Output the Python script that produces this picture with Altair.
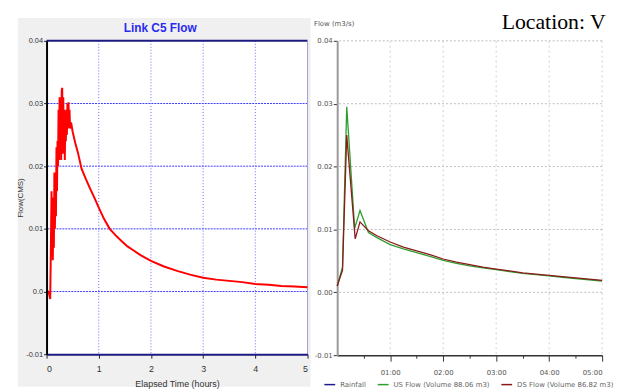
import altair as alt
import pandas as pd

# ---------------- data ----------------
# Left panel: Link C5 Flow (SWMM), elapsed time in hours, flow in CMS
left_time = [0.00, 0.03, 0.05, 0.07, 0.08, 0.095, 0.10, 0.11, 0.12, 0.13, 0.14, 0.15,
             0.16, 0.17, 0.18, 0.19, 0.20, 0.21, 0.22, 0.23, 0.24, 0.25, 0.26, 0.27,
             0.28, 0.29, 0.30, 0.31, 0.32, 0.33, 0.34, 0.35, 0.36, 0.37, 0.38, 0.39,
             0.40, 0.41, 0.42, 0.43, 0.44, 0.45, 0.47, 0.50, 0.55, 0.60, 0.67, 0.75,
             0.83, 0.92, 1.00, 1.10, 1.21, 1.32, 1.43, 1.55, 1.64, 1.80, 2.00, 2.25,
             2.50, 2.75, 3.00, 3.25, 3.50, 3.75, 4.00, 4.25, 4.50, 4.75, 5.00]
left_flow = [0.0, 0.0, -0.0004, -0.0012, 0.005, 0.016, 0.009, 0.015, 0.005, 0.013, 0.007, 0.019,
             0.010, 0.018, 0.012, 0.023, 0.016, 0.024, 0.020, 0.029, 0.021, 0.031, 0.023, 0.030,
             0.021, 0.032, 0.0325, 0.022, 0.031, 0.024, 0.029, 0.021, 0.028, 0.024, 0.029, 0.025,
             0.030, 0.026, 0.0302, 0.027, 0.029, 0.026, 0.027, 0.0255, 0.0237, 0.0222, 0.0196, 0.0180,
             0.0165, 0.0149, 0.0134, 0.0116, 0.0100, 0.0090, 0.0081, 0.0072, 0.0067, 0.0058, 0.0049, 0.0040,
             0.0033, 0.0027, 0.0022, 0.0019, 0.0017, 0.0015, 0.0012, 0.0011, 0.0009, 0.0008, 0.0007]

# Right panel: US / DS flow, time in hours, flow in m3/s
us_time = [0.00, 0.10, 0.18, 0.33, 0.43, 0.59, 0.75, 1.00, 1.25, 1.50, 1.75, 2.00, 2.25,
           2.50, 2.75, 3.00, 3.25, 3.50, 3.75, 4.00, 4.25, 4.50, 4.75, 5.00]
us_flow = [0.0010, 0.0040, 0.0295, 0.0102, 0.0130, 0.0095, 0.0087, 0.0076, 0.0069, 0.0063, 0.0057, 0.0051, 0.0046,
           0.0042, 0.0039, 0.0036, 0.0033, 0.0030, 0.0028, 0.0026, 0.0024, 0.0022, 0.0020, 0.0018]
ds_time = [0.00, 0.10, 0.18, 0.34, 0.43, 0.59, 0.75, 1.00, 1.25, 1.50, 1.75, 2.00, 2.25,
           2.50, 2.75, 3.00, 3.25, 3.50, 3.75, 4.00, 4.25, 4.50, 4.75, 5.00]
ds_flow = [0.0010, 0.0035, 0.0250, 0.0085, 0.0112, 0.0098, 0.0090, 0.0080, 0.0072, 0.0066, 0.0060, 0.0053, 0.0048,
           0.0044, 0.0040, 0.0037, 0.0034, 0.0031, 0.0029, 0.0027, 0.0025, 0.0023, 0.0021, 0.0019]

series_names = ["Rainfall", "US Flow (Volume 88.06 m3)", "DS Flow (Volume 86.82 m3)"]
series_colors = ["#1c1c8c", "#2e9e2e", "#8b1a1a"]

left_yticks = [0.04, 0.03, 0.02, 0.01, 0.0, -0.01]
left_xticks = [0, 1, 2, 3, 4, 5]
left_hgrid = [0.03, 0.02, 0.01, 0.0]
left_vgrid = [1, 2, 3, 4]
left_top = [0.04]
left_right = [5]

right_yticks = [0.04, 0.03, 0.02, 0.01, 0.0, -0.01]
right_xticks = [0.5, 1, 1.5, 2, 2.5, 3, 3.5, 4, 4.5, 5]
right_hgrid = [0.04, 0.03, 0.02, 0.01, 0.0]
right_vgrid = [1, 2, 3, 4, 5]

# ---------------- left panel ----------------
WL, HL = 264, 317
xsL = alt.Scale(domain=[0, 5], nice=False, zero=False)
ysL = alt.Scale(domain=[-0.01, 0.04], nice=False, zero=False)
dummy = pd.DataFrame({"k": [0]})
lab_font = "Liberation Sans"

axXL = alt.Axis(
    values=left_xticks, title="Elapsed Time (hours)", grid=False, zindex=1,
    domainColor="#1a1a80", domainWidth=2, tickColor="#222", tickSize=4,
    labelFont=lab_font, labelFontSize=9, labelColor="#333", labelPadding=6,
    titleFont="Liberation Sans Narrow, Liberation Sans", titleFontSize=9,
    titleFontWeight="normal", titleColor="#333", titlePadding=7)
axYL = alt.Axis(
    values=left_yticks, grid=False, zindex=1, title="Flow(CMS)",
    labelExpr="datum.value == 0 ? '0.0' : replace(format(datum.value, '.2f'), '\u2212', '-')",
    domainColor="#000000", domainWidth=2, tickColor="#222", tickSize=3,
    labelFont=lab_font, labelFontSize=7.5, labelColor="#333", labelPadding=1,
    titleFont=lab_font, titleFontSize=8, titleFontWeight="normal", titleColor="#333",
    titlePadding=1)

bg = alt.Chart(dummy).mark_rect(color="#f0f0f0").encode(
    x=alt.value(-29), x2=alt.value(WL + 3), y=alt.value(-23), y2=alt.value(HL + 33))
plotbg = alt.Chart(dummy).mark_rect(color="white").encode(
    x=alt.value(0), x2=alt.value(WL), y=alt.value(0), y2=alt.value(HL))
hgrid = alt.Chart(pd.DataFrame({"q": left_hgrid})).mark_rule(
    color="#3c3cff", strokeDash=[2, 1], strokeWidth=1).encode(
    y=alt.Y("q:Q", scale=ysL, axis=axYL))
vgrid = alt.Chart(pd.DataFrame({"t": left_vgrid})).mark_rule(
    color="#6a6aff", strokeDash=[1, 2], strokeWidth=1).encode(
    x=alt.X("t:Q", scale=xsL, axis=axXL))
topb = alt.Chart(pd.DataFrame({"q": left_top})).mark_rule(
    color="#1a1a80", strokeWidth=2).encode(y=alt.Y("q:Q", scale=ysL, axis=axYL))
rightb = alt.Chart(pd.DataFrame({"t": left_right})).mark_rule(
    color="#a0a0d0", strokeWidth=1).encode(x=alt.X("t:Q", scale=xsL, axis=axXL))

df_left = pd.DataFrame({"t": left_time, "q": left_flow})
line_left = alt.Chart(df_left).mark_line(color="#ff0000", strokeWidth=2).encode(
    x=alt.X("t:Q", scale=xsL, axis=axXL),
    y=alt.Y("q:Q", scale=ysL, axis=axYL),
)

left = alt.layer(bg, plotbg, hgrid, vgrid, topb, rightb, line_left).properties(
    width=WL, height=HL,
    title=alt.TitleParams("Link C5 Flow", color="#2a2af0",
                          font="Liberation Sans Narrow, Liberation Sans", fontSize=12,
                          fontWeight="bold", anchor="middle", offset=-17, dx=-17, zindex=1),
)

# ---------------- right panel ----------------
WR, HR = 268, 318
xsR = alt.Scale(domain=[0, 5], nice=False, zero=False)
ysR = alt.Scale(domain=[-0.01, 0.04], nice=False, zero=False)
r_font = "DejaVu Sans"

axXR = alt.Axis(
    values=right_xticks, title=None, grid=False,
    labelExpr="datum.value % 1 == 0 ? '0' + datum.value + ':00' : ''",
    domainColor="#333", domainWidth=1.5, tickColor="#333",
    tickSize={"condition": {"test": "datum.value % 1 == 0", "value": 6}, "value": 3},
    labelFont=r_font, labelFontSize=7, labelColor="#555", labelPadding=8)
axYR = alt.Axis(
    values=right_yticks, grid=False, title="Flow (m3/s)",
    labelExpr="replace(format(datum.value, '.2f'), '\u2212', '-')",
    domainColor="#9a9a9a", domainWidth=2, tickColor="#333", tickSize=4,
    labelFont=r_font, labelFontSize=7, labelColor="#555", labelPadding=1,
    titleFont=r_font, titleFontSize=7, titleFontWeight="normal", titleColor="#555",
    titleAngle=0, titleAlign="left", titleBaseline="middle", titleX=-24, titleY=-18)

hgridR = alt.Chart(pd.DataFrame({"q": right_hgrid})).mark_rule(
    color="#bdbdbd", strokeDash=[2, 2], strokeWidth=1).encode(
    y=alt.Y("q:Q", scale=ysR, axis=axYR))
vgridR = alt.Chart(pd.DataFrame({"t": right_vgrid})).mark_rule(
    color="#d0d0d0", strokeDash=[2, 3], strokeWidth=1).encode(
    x=alt.X("t:Q", scale=xsR, axis=axXR))

df_right = pd.concat([
    pd.DataFrame({"t": us_time, "q": us_flow, "s": series_names[1]}),
    pd.DataFrame({"t": ds_time, "q": ds_flow, "s": series_names[2]}),
])
lines_right = alt.Chart(df_right).mark_line(strokeWidth=1.3).encode(
    x=alt.X("t:Q", scale=xsR, axis=axXR),
    y=alt.Y("q:Q", scale=ysR, axis=axYR),
    color=alt.Color("s:N", scale=alt.Scale(domain=series_names, range=series_colors),
                    legend=alt.Legend(title=None, orient="none", legendX=280, legendY=HR + 23,
                                      direction="horizontal", symbolType="stroke",
                                      symbolStrokeWidth=1.5, symbolSize=120,
                                      labelFont=r_font, labelFontSize=7, columnPadding=8,
                                      labelColor="#666")),
    order=alt.Order("t:Q"),
)

right = alt.layer(hgridR, vgridR, lines_right).properties(
    width=WR, height=HR,
    title=alt.TitleParams("Location: V", font="Liberation Serif", fontSize=22,
                          fontWeight="normal", color="#000", anchor="end", offset=-15, dx=1),
)

chart = alt.hconcat(left, right, spacing=30, bounds="flush").properties(
    padding={"left": 8, "top": 1, "right": 0, "bottom": 0},
    background="white",
).configure_view(strokeWidth=0)

chart.save("out.html", embed_options={"renderer": "svg", "actions": False})
